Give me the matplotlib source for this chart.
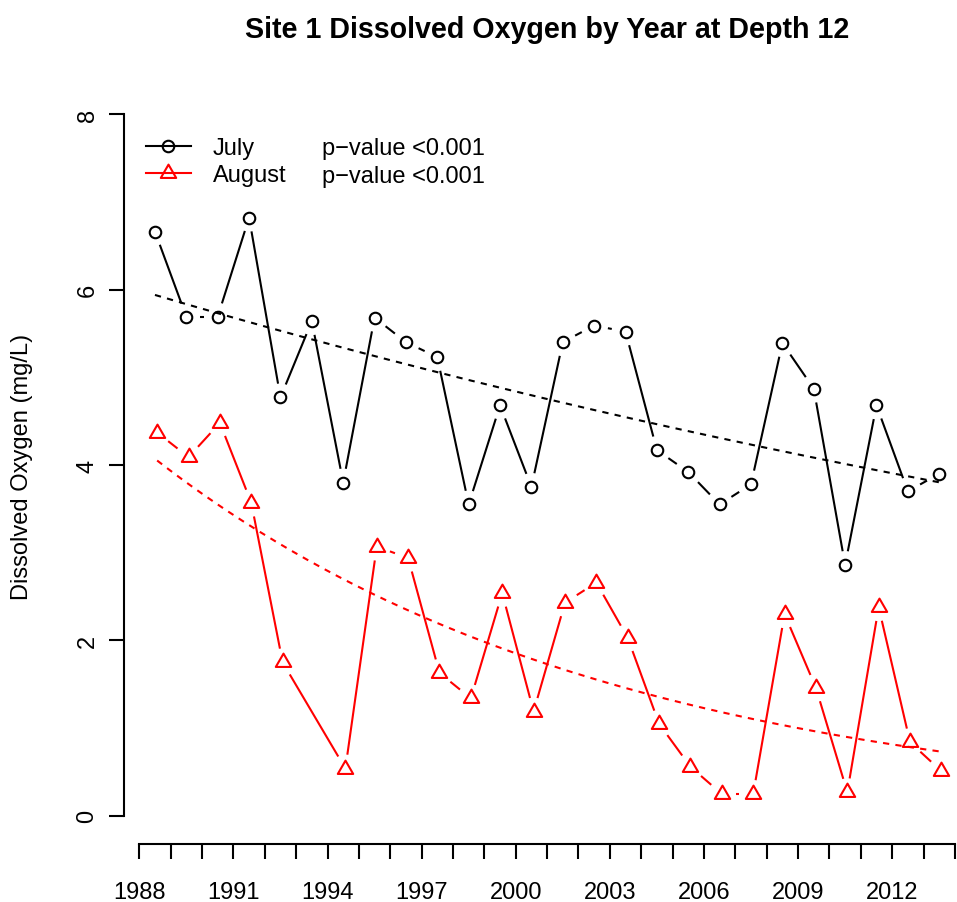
import numpy as np
import matplotlib
matplotlib.use("Agg")
import matplotlib.pyplot as plt
from matplotlib.path import Path
from matplotlib.lines import Line2D
from matplotlib.collections import LineCollection

plt.rcParams['font.family'] = ['Liberation Sans', 'DejaVu Sans']

# DATA
jul_years = list(range(1988, 2014))
jul_do = [6.66, 5.69, 5.69, 6.82, 4.77, 5.64, 3.80, 5.68, 5.40, 5.23, 3.55, 4.68, 3.75,
          5.40, 5.59, 5.52, 4.17, 3.92, 3.55, 3.78, 5.39, 4.87, 2.86, 4.68, 3.70, 3.90]
aug_years = [1988, 1989, 1990, 1991, 1992, 1994, 1995, 1996, 1997, 1998, 1999, 2000,
             2001, 2002, 2003, 2004, 2005, 2006, 2007, 2008, 2009, 2010, 2011, 2012, 2013]
aug_do = [4.37, 4.09, 4.48, 3.57, 1.75, 0.54, 3.07, 2.94, 1.63, 1.34, 2.54, 1.19,
          2.43, 2.66, 2.03, 1.05, 0.56, 0.25, 0.25, 2.30, 1.46, 0.27, 2.38, 0.84, 0.51]
jul_offset = 0.50   # sampling time within the year
aug_offset = 0.57
series_names = ['July', 'August']
p_labels = ['p\u2212value <0.001', 'p\u2212value <0.001']
xtick_years = list(range(1988, 2015))
xlabel_years = list(range(1988, 2013, 3))
yticks = [0, 2, 4, 6, 8]

W, H = 957, 903
fig = plt.figure(figsize=(W / 100, H / 100), dpi=100)
ax = fig.add_axes([123.6 / W, 58 / H, (W - 123.6) / W, 758 / H])
ax.set_xlim(1987.5, 1987.5 + (W - 123.6) / 31.37)
ax.set_ylim(-0.32, 8.32)

jul_x = np.array(jul_years) + jul_offset
aug_x = np.array(aug_years) + aug_offset


def gapped(x, y, gap=14.0):
    # R type="b": segments stop short of the points
    pts = ax.transData.transform(np.column_stack([x, y]))
    inv = ax.transData.inverted()
    segs = []
    for p0, p1 in zip(pts[:-1], pts[1:]):
        d = p1 - p0
        L = np.hypot(*d)
        if L > 2 * gap:
            u = d / L
            segs.append(inv.transform(np.array([p0 + u * gap, p1 - u * gap])))
    return segs


def exp_fit(x, y):
    # y = a * exp(b * t), least squares on the original scale (like nls)
    t = np.asarray(x) - x[0]
    y = np.asarray(y, dtype=float)
    b, la = np.polyfit(t, np.log(y), 1)
    a = np.exp(la)
    for _ in range(50):
        f = a * np.exp(b * t)
        J = np.column_stack([np.exp(b * t), a * t * np.exp(b * t)])
        step = np.linalg.lstsq(J, y - f, rcond=None)[0]
        a, b = a + step[0], b + step[1]
    return a, b


tri = Path([(0, 1), (0.866, -0.5), (-0.866, -0.5), (0, 1)],
           [Path.MOVETO, Path.LINETO, Path.LINETO, Path.CLOSEPOLY])

lw = 1.5
ms_circ, ms_tri = 8.3, 12.8
ax.add_collection(LineCollection(gapped(jul_x, jul_do), colors='black', linewidths=lw))
ax.add_collection(LineCollection(gapped(aug_x, aug_do), colors='red', linewidths=lw))
ax.plot(jul_x, jul_do, linestyle='none', marker='o', ms=ms_circ, mfc='none',
        mec='black', mew=lw)
ax.plot(aug_x, aug_do, linestyle='none', marker=tri, ms=ms_tri, mfc='none',
        mec='red', mew=lw)

# exponential trend lines
for xv, yv, col in [(jul_x, jul_do, 'black'), (aug_x, aug_do, 'red')]:
    a, b = exp_fit(xv, yv)
    xs = np.linspace(xv[0], xv[-1], 200)
    ax.plot(xs, a * np.exp(b * (xs - xv[0])), color=col, lw=lw, dashes=(3, 3))

# axes like R base graphics
for s in ['top', 'right']:
    ax.spines[s].set_visible(False)
ax.spines['left'].set_bounds(0, 8)
ax.spines['bottom'].set_bounds(1988, 2014)
for s in ['left', 'bottom']:
    ax.spines[s].set_linewidth(lw)

ax.set_xticks(xtick_years)
ax.set_xticklabels([str(y) if y in xlabel_years else '' for y in xtick_years])
ax.set_yticks(yticks)
ax.set_yticklabels([str(v) for v in yticks], rotation=90, va='center')
ax.tick_params(axis='both', direction='out', length=10.5, width=lw, labelsize=17)
ax.tick_params(axis='x', pad=16.5)
ax.tick_params(axis='y', pad=7.5)

fig.text(22 / W, 1 - 467 / H, 'Dissolved Oxygen (mg/L)', rotation=90,
         ha='center', va='center', fontsize=17)
fig.text(547 / W, 1 - 30 / H, 'Site 1 Dissolved Oxygen by Year at Depth 12',
         ha='center', va='center', fontsize=20.6, fontweight='bold')

handles = [Line2D([], [], color='black', lw=lw, marker='o', ms=ms_circ, mfc='none', mew=lw),
           Line2D([], [], color='red', lw=lw, marker=tri, ms=ms_tri, mfc='none', mew=lw)]
ax.legend(handles, series_names, loc='center left',
          bbox_to_anchor=(146 / W, 1 - 162.5 / H), bbox_transform=fig.transFigure,
          frameon=False, fontsize=17, borderpad=0, borderaxespad=0,
          handlelength=1.9, handletextpad=0.93, labelspacing=0.2)
for lab, yb in zip(p_labels, [155, 182.7]):
    fig.text(322 / W, 1 - yb / H, lab, ha='left', va='baseline', fontsize=17)

fig.savefig('out.png', dpi=100)
